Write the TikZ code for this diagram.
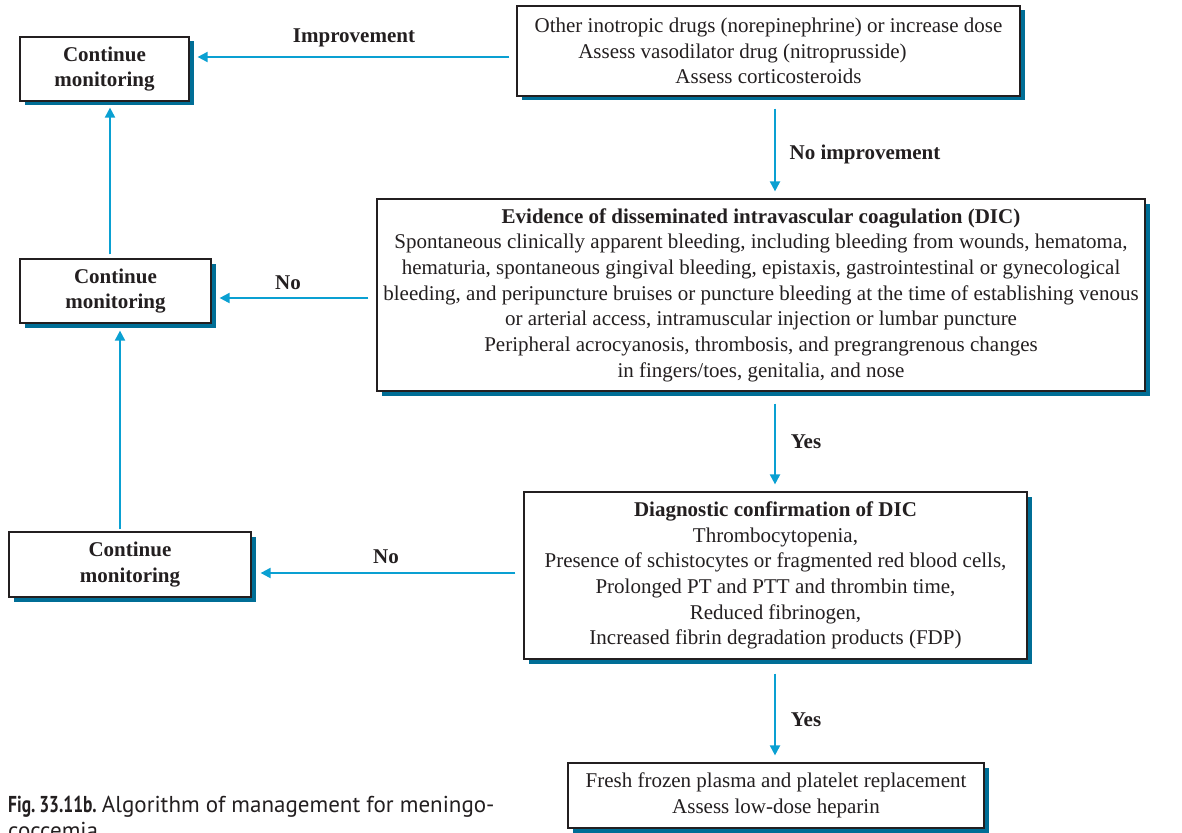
\documentclass[tikz,border=0pt]{standalone}
\usepackage{fontspec}
\setmainfont{Liberation Serif}
\newfontfamily\capfont{PT Sans}
\newfontfamily\capnarrow[FakeStretch=0.76]{PT Sans}
\usetikzlibrary{arrows.meta,shadows}
\definecolor{shadowteal}{RGB}{0,110,150}
\definecolor{flowblue}{RGB}{10,160,210}
\definecolor{inkgray}{RGB}{35,31,32}
\tikzset{
  box/.style={draw=inkgray, line width=1.2pt, fill=white, inner sep=0pt,
    align=center, text=inkgray,
    font=\fontsize{21}{25.7}\selectfont,
    drop shadow={shadow xshift=4.5pt, shadow yshift=-4.5pt,
      fill=shadowteal, opacity=1}},
  arr/.style={draw=flowblue, line width=2pt,
    -{Triangle[length=10pt,width=10pt]}},
  lbl/.style={font=\fontsize{21}{25}\selectfont\bfseries, text=inkgray, inner sep=0pt}
}
\begin{document}
\begin{tikzpicture}[x=1pt,y=-1pt]
\useasboundingbox (0,0) rectangle (1182,832);
\clip (0,0) rectangle (1182,832);

% boxes
\node[box, minimum width=169pt, minimum height=64pt] (cm1) at (104.5,69)
  {\bfseries Continue\\\bfseries monitoring};
\node[box, minimum width=503pt, minimum height=90pt] (top) at (768.5,51)
  {Other inotropic drugs (norepinephrine) or increase dose\\
   Assess vasodilator drug (nitroprusside)\rule{52pt}{0pt}\\
   Assess corticosteroids};
\node[box, minimum width=191pt, minimum height=64pt] (cm2) at (115.5,291)
  {\bfseries Continue\\\bfseries monitoring};
\node[box, minimum width=768pt, minimum height=192pt] (dic) at (761,295)
  {\bfseries Evidence of disseminated intravascular coagulation (DIC)\\
   Spontaneous clinically apparent bleeding, including bleeding from wounds, hematoma,\\
   hematuria, spontaneous gingival bleeding, epistaxis, gastrointestinal or gynecological\\
   bleeding, and peripuncture bruises or puncture bleeding at the time of establishing venous\\
   or arterial access, intramuscular injection or lumbar puncture\\
   Peripheral acrocyanosis, thrombosis, and pregrangrenous changes\\
   in fingers/toes, genitalia, and nose};
\node[box, minimum width=242pt, minimum height=65pt] (cm3) at (130,564.5)
  {\bfseries Continue\\\bfseries monitoring};
\node[box, minimum width=503pt, minimum height=167pt] (diag) at (775.5,575.5)
  {\bfseries Diagnostic confirmation of DIC\\
   Thrombocytopenia,\\
   Presence of schistocytes or fragmented red blood cells,\\
   Prolonged PT and PTT and thrombin time,\\
   Reduced fibrinogen,\\
   Increased fibrin degradation products (FDP)};
\node[box, minimum width=416pt, minimum height=65pt] (ffp) at (776,795.5)
  {Fresh frozen plasma and platelet replacement\\
   Assess low-dose heparin};

% connectors
\draw[arr] ([xshift=-7pt,yshift=-6pt]top.west) -- ([xshift=8pt,yshift=12pt]cm1.east);
\draw[arr] ([xshift=6.5pt,yshift=-12pt]top.south) -- ([xshift=14pt,yshift=7pt]dic.north);
\draw[arr] ([xshift=-8pt,yshift=-3pt]dic.west) -- ([xshift=8pt,yshift=-7pt]cm2.east);
\draw[arr] ([xshift=-5.5pt,yshift=4pt]cm2.north) -- ([xshift=5.5pt,yshift=-6pt]cm1.south);
\draw[arr] ([xshift=14pt,yshift=-12pt]dic.south) -- ([xshift=-0.5pt,yshift=7pt]diag.north);
\draw[arr] ([xshift=-8pt,yshift=2.5pt]diag.west) -- ([xshift=9pt,yshift=-8.5pt]cm3.east);
\draw[arr] ([xshift=-10pt,yshift=2pt]cm3.north) -- ([xshift=4.5pt,yshift=-7pt]cm2.south);
\draw[arr] ([xshift=-0.5pt,yshift=-14pt]diag.south) -- ([xshift=-1pt,yshift=7pt]ffp.north);

% connector labels
\node[lbl] (limp) at (354,38) {Improvement};
\node[lbl] (lnoimp) at (865,154) {No improvement};
\node[lbl] (lno1) at (288,283) {No};
\node[lbl] (lyes1) at (806,442) {Yes};
\node[lbl] (lno2) at (386,557) {No};
\node[lbl] (lyes2) at (806,720) {Yes};

% caption (second line runs past the lower edge of the page)
\node[anchor=base west, inner sep=0pt, align=left, text=inkgray,
  font=\capfont\fontsize{23}{26}\selectfont] (cap) at (8,838)
  {{\capnarrow\bfseries Fig.\,33.11b.}\hspace{-3pt} Algorithm of management for meningo-\\coccemia};
\end{tikzpicture}
\end{document}
